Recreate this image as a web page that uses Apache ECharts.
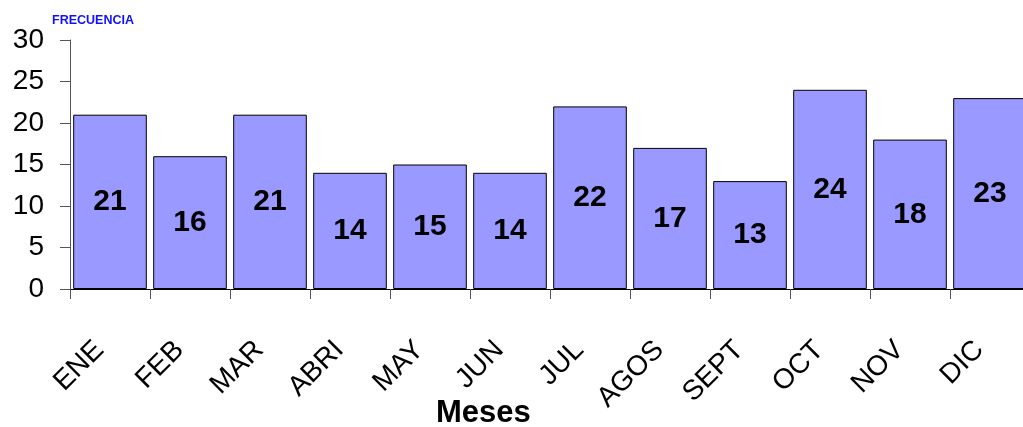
<!DOCTYPE html>
<html>
<head>
<meta charset="utf-8">
<script src="https://cdn.jsdelivr.net/npm/echarts@6/dist/echarts.min.js"></script>
<style>
	html, body { margin: 0; padding: 0; background: #fff; overflow: hidden; }
	#chart { width: 1030px; height: 427px; }
</style>
</head>
<body>
<div id="chart"></div>
<script>
	// meses y frecuencias
	var meses = ['ENE', 'FEB', 'MAR', 'ABRI', 'MAY', 'JUN', 'JUL', 'AGOS', 'SEPT', 'OCT', 'NOV', 'DIC'];
	var frecuencia = [21, 16, 21, 14, 15, 14, 22, 17, 13, 24, 18, 23];

	var chart = echarts.init(document.getElementById('chart'));
	chart.setOption({
		animation: false,
		textStyle: { fontFamily: 'Liberation Sans, Arial, sans-serif' },
		grid: { left: 70, top: 40, width: 960, height: 249, containLabel: false },
		graphic: [
			{
				type: 'text', left: 52, top: 14,
				style: { text: 'FRECUENCIA', fill: '#1010ff', font: 'bold 12.5px Liberation Sans, Arial, sans-serif' }
			},
			{
				type: 'text', left: 436, top: 398,
				style: { text: 'Meses', fill: '#000', font: 'bold 31px Liberation Sans, Arial, sans-serif' }
			}
		],
		xAxis: {
			type: 'category',
			data: meses,
			axisLine: { lineStyle: { color: '#000', width: 1 } },
			axisTick: { show: true, length: 10, lineStyle: { color: '#555' } },
			axisLabel: { rotate: 45, margin: 46, fontSize: 28, color: '#000', interval: 0, padding: [0, 15, 0, 0] }
		},
		yAxis: {
			type: 'value',
			min: 0,
			max: 30,
			interval: 5,
			splitLine: { show: false },
			axisLine: { show: true, lineStyle: { color: '#555', width: 1 } },
			axisTick: { show: true, length: 10, lineStyle: { color: '#555' } },
			axisLabel: { fontSize: 28, color: '#000', margin: 26 }
		},
		series: [{
			type: 'bar',
			data: frecuencia,
			barCategoryGap: '8%',
			itemStyle: { color: '#9999ff', borderColor: '#000', borderWidth: 1 },
			label: {
				show: true,
				position: 'inside',
				color: '#000',
				fontWeight: 'bold',
				fontSize: 30
			}
		}]
	});
</script>
</body>
</html>
